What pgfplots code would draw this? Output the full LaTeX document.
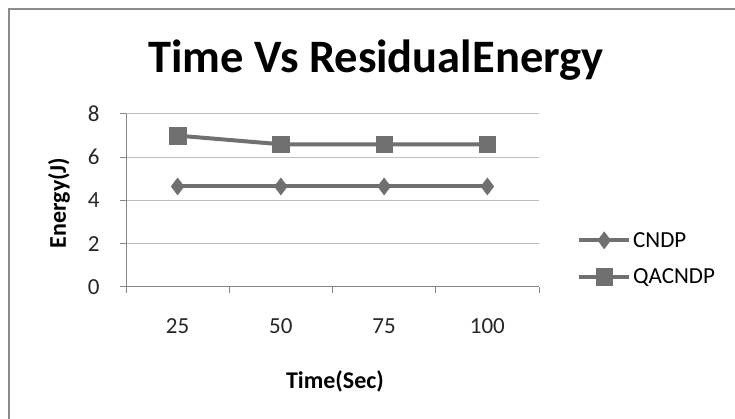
\documentclass[border=0pt]{standalone}
\usepackage{fontspec}
\setmainfont{Carlito}
\usepackage{pgfplots}
\pgfplotsset{compat=1.18}
\definecolor{series}{RGB}{112,112,112}
\definecolor{gridc}{RGB}{190,190,190}
\definecolor{axc}{RGB}{134,134,134}
\definecolor{framec}{RGB}{140,140,140}
\begin{document}
\begin{tikzpicture}[x=1pt,y=1pt]
\useasboundingbox (0,0) rectangle (735,419);
\draw[framec, line width=2.5pt] (9,0) -- (9,410) -- (735,410);
\begin{axis}[
  at={(126pt,132pt)}, anchor=south west,
  scale only axis, width=413pt, height=173pt,
  xmin=0, xmax=4, ymin=0, ymax=8,
  axis x line*=bottom, axis y line*=left,
  axis line style={axc, line width=1pt},
  /pgf/number format/assume math mode=true,
  ytick={0,2,4,6,8},
  ymajorgrids, grid style={gridc, line width=1pt},
  xtick={0,1,2,3,4}, xticklabels={},
  extra x ticks={0.5,1.5,2.5,3.5},
  extra x tick labels={25,50,75,100},
  extra x tick style={major tick length=0pt, grid=none},
  tick align=outside, major tick length=6pt,
  tick style={axc, line width=1pt},
  tick label style={font=\fontsize{23}{27}\selectfont, text=black!85},
  xticklabel style={yshift=-28pt},
  yticklabel style={xshift=-17pt},
  xlabel={Time(Sec)}, ylabel={Energy(J)},
  label style={font=\fontsize{24}{28}\selectfont\bfseries},
  xlabel style={at={(axis description cs:0.506,-0.543)}, anchor=center},
  ylabel style={at={(axis description cs:-0.162,0.486)}, anchor=center},
  title={Time Vs ResidualEnergy},
  title style={font=\fontsize{46.5}{52}\selectfont\bfseries, at={(axis description cs:0.605,1.208)}, anchor=base},
  legend style={at={(axis description cs:1.092,0.33)}, anchor=north west, draw=none, fill=none,
    font=\fontsize{23}{27}\selectfont, row sep=16pt, inner sep=0pt,
    /tikz/every even column/.append style={column sep=6pt}},
  legend cell align=left,
  legend image code/.code={\draw[mark repeat=2,mark phase=2,#1] plot coordinates {(0pt,0pt) (25pt,0pt) (50pt,0pt)};},
  every axis plot/.append style={series, line width=4pt},
  clip=false,
]
\addplot[mark=diamond*, mark size=8.5pt, mark options={line width=0.5pt, fill=series, draw=series}]
  coordinates {(0.5,4.65) (1.5,4.65) (2.5,4.65) (3.5,4.65)};
\addlegendentry{CNDP}
\addplot[mark=square*, mark size=8.3pt, mark options={line width=0.5pt, fill=series, draw=series}]
  coordinates {(0.5,7.0) (1.5,6.6) (2.5,6.6) (3.5,6.6)};
\addlegendentry{QACNDP}
\end{axis}
\end{tikzpicture}
\end{document}
